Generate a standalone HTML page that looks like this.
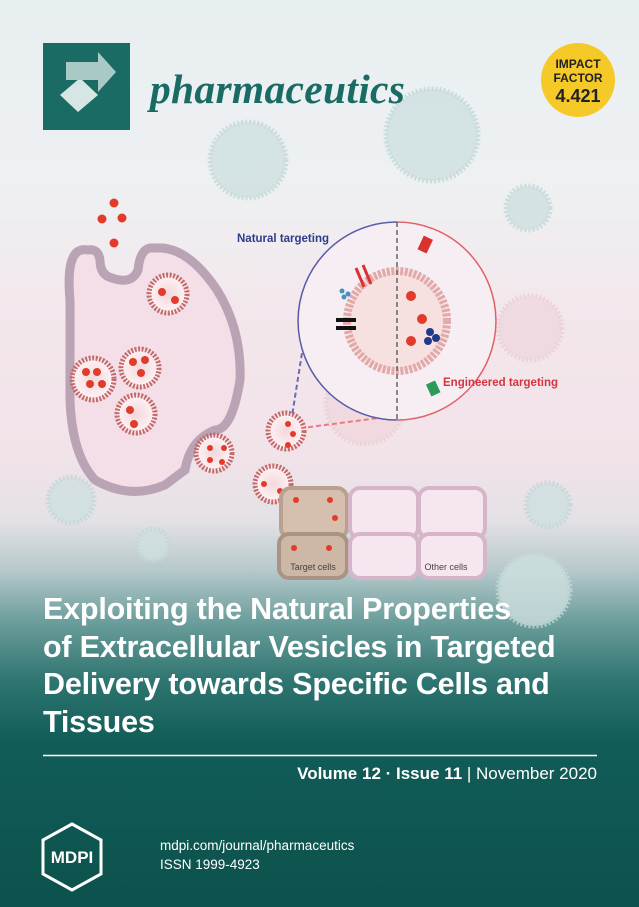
<!DOCTYPE html>
<html><head><meta charset="utf-8"><style>
*{margin:0;padding:0}
body{width:639px;height:907px;overflow:hidden;position:relative;font-family:"Liberation Sans",sans-serif;
background:linear-gradient(to bottom,#e8eff1 0px,#eef0f2 180px,#f3e6eb 330px,#f2e3e9 450px,#e4e1e6 520px,#b7c9cb 570px,#6d9f9d 620px,#2f7571 680px,#125d58 740px,#0c514c 907px);}
.t{position:absolute;color:#fff;font-weight:bold;font-size:30.5px;left:43px;line-height:37.5px;top:591px;letter-spacing:-0.2px}
</style></head><body>
<svg width="639" height="907" style="position:absolute;left:0;top:0">
<defs>
<radialGradient id="v" cx="50%" cy="50%" r="50%"><stop offset="0" stop-color="#f2d8dc"/><stop offset="1" stop-color="#fff3f5"/></radialGradient>
</defs>
<g fill="#cfe0e0" stroke="#c3d8d8" stroke-width="5" stroke-dasharray="2 2" opacity="0.8">
<circle cx="248" cy="160" r="38"/><circle cx="432" cy="135" r="46"/><circle cx="528" cy="208" r="22"/>
<circle cx="71" cy="500" r="23"/><circle cx="153" cy="545" r="16"/><circle cx="548" cy="505" r="22"/><circle cx="534" cy="590" r="36"/>
</g>
<g fill="#f0d8df" stroke="#ebcfd6" stroke-width="5" stroke-dasharray="2 2" opacity="0.8">
<circle cx="530" cy="328" r="32"/><circle cx="365" cy="405" r="39"/>
</g>
<rect x="43" y="43" width="87" height="87" fill="#1b6b65"/>
<path d="M60 95 L80 78 L98 95 L78 112Z" fill="#d6e6e4"/>
<path d="M66 62 L98 62 L98 52 L116 72 L98 92 L98 80 L66 80Z" fill="#a9c9c6"/>
<circle cx="578" cy="80" r="37" fill="#f4c928"/>
<text x="578" y="68" font-family="Liberation Sans" font-weight="bold" font-size="12" text-anchor="middle" fill="#222">IMPACT</text>
<text x="578" y="82" font-family="Liberation Sans" font-weight="bold" font-size="12" text-anchor="middle" fill="#222">FACTOR</text>
<text x="578" y="102" font-family="Liberation Sans" font-weight="bold" font-size="18" text-anchor="middle" fill="#222">4.421</text>
<path d="M88 250 Q65 245 70 300 L70 400 Q72 455 95 480 Q130 500 165 485 L185 470 Q190 440 215 430 Q232 430 240 380 Q242 330 217 290 Q190 250 162 248 L150 248 Q140 250 138 270 Q132 285 112 278 Q100 275 100 260 Q98 248 88 250Z" fill="#f4dfe8" stroke="#b9a3b5" stroke-width="9"/>
<g fill="#e23a2b"><circle cx="114" cy="203" r="4.5"/><circle cx="102" cy="219" r="4.5"/><circle cx="122" cy="218" r="4.5"/><circle cx="114" cy="243" r="4.5"/></g>
<g fill="url(#v)" stroke="#c46a6a" stroke-width="5" stroke-dasharray="2 1.5">
<circle cx="168" cy="294" r="19"/><circle cx="93" cy="379" r="21"/><circle cx="140" cy="368" r="19"/><circle cx="136" cy="414" r="19"/>
<circle cx="214" cy="453" r="18"/><circle cx="286" cy="431" r="18"/><circle cx="273" cy="484" r="18"/>
</g>
<g fill="#e23a2b">
<circle cx="162" cy="292" r="4"/><circle cx="175" cy="300" r="4"/>
<circle cx="86" cy="372" r="4"/><circle cx="97" cy="372" r="4"/><circle cx="90" cy="384" r="4"/><circle cx="102" cy="384" r="4"/>
<circle cx="133" cy="362" r="4"/><circle cx="145" cy="360" r="4"/><circle cx="141" cy="373" r="4"/>
<circle cx="130" cy="410" r="4"/><circle cx="134" cy="424" r="4"/>
<circle cx="210" cy="448" r="3"/><circle cx="224" cy="448" r="3"/><circle cx="210" cy="460" r="3"/><circle cx="222" cy="462" r="3"/>
<circle cx="288" cy="424" r="3"/><circle cx="293" cy="434" r="3"/><circle cx="288" cy="445" r="3"/>
<circle cx="264" cy="484" r="3"/><circle cx="280" cy="491" r="3"/>
</g>
<g stroke-width="4">
<rect x="281" y="488" width="66" height="50" rx="10" fill="#d6bfae" stroke="#b8a190"/>
<rect x="279" y="534" width="68" height="44" rx="10" fill="#cdb7a7" stroke="#a99484"/>
<rect x="350" y="488" width="68" height="50" rx="10" fill="#f6e6ef" stroke="#d7b5c9"/>
<rect x="419" y="488" width="66" height="50" rx="10" fill="#f6e6ef" stroke="#d7b5c9"/>
<rect x="350" y="534" width="68" height="44" rx="10" fill="#f6e6ef" stroke="#d7b5c9"/>
<rect x="419" y="534" width="66" height="44" rx="10" fill="#f6e6ef" stroke="#d7b5c9"/>
</g>
<g fill="#e23a2b"><circle cx="296" cy="500" r="3"/><circle cx="330" cy="500" r="3"/><circle cx="335" cy="518" r="3"/><circle cx="294" cy="548" r="3"/><circle cx="329" cy="548" r="3"/></g>
<text x="313" y="570" font-size="9" text-anchor="middle" fill="#444" font-family="Liberation Sans">Target cells</text>
<text x="446" y="570" font-size="9" text-anchor="middle" fill="#444" font-family="Liberation Sans">Other cells</text>
<line x1="312" y1="290" x2="292" y2="416" stroke="#6a6aba" stroke-width="2" stroke-dasharray="5 3"/>
<line x1="440" y1="410" x2="302" y2="428" stroke="#e87a80" stroke-width="2" stroke-dasharray="5 3"/>
<path d="M397 222 A85 85 0 0 0 397 420" fill="#f6eef3" stroke="#5a5aa8" stroke-width="1.5"/>
<path d="M397 222 A85 85 0 0 1 397 420" fill="#f6eef3" stroke="#e2606a" stroke-width="1.5"/>
<circle cx="397" cy="321" r="50" fill="#f6e0e0" stroke="#e3a8a8" stroke-width="8" stroke-dasharray="3 1.5"/>
<line x1="397" y1="222" x2="397" y2="420" stroke="#666" stroke-width="1.5" stroke-dasharray="5 3"/>
<g fill="#e23a2b"><circle cx="411" cy="296" r="5"/><circle cx="422" cy="319" r="5"/><circle cx="411" cy="341" r="5"/></g>
<rect x="420" y="237" width="10" height="15" fill="#d8332f" transform="rotate(25 425 245)"/>
<rect x="428" y="382" width="10" height="13" fill="#2e9a5a" transform="rotate(-25 433 388)"/>
<g fill="#223a8a"><circle cx="430" cy="332" r="4"/><circle cx="436" cy="338" r="4"/><circle cx="428" cy="341" r="4"/></g>
<rect x="336" y="318" width="20" height="4" fill="#111"/><rect x="336" y="326" width="20" height="4" fill="#111"/>
<g stroke="#d8332f" stroke-width="3"><line x1="356" y1="268" x2="364" y2="287"/><line x1="363" y1="265" x2="371" y2="284"/></g>
<g fill="#4a90c0"><circle cx="342" cy="291" r="2.5"/><circle cx="348" cy="294" r="2.5"/><circle cx="344" cy="297" r="2.5"/></g>
<text x="237" y="242" font-size="11.5" font-weight="bold" fill="#2f3c8a" font-family="Liberation Sans">Natural targeting</text>
<text x="443" y="386" font-size="11.5" font-weight="bold" fill="#d8333f" font-family="Liberation Sans">Engineered targeting</text>
<line x1="43" y1="755.5" x2="597" y2="755.5" stroke="#fff" stroke-width="1.5"/>
<path d="M72 824 L101 840 L101 874 L72 890 L43 874 L43 840Z" fill="none" stroke="#fff" stroke-width="3"/>
<text x="72" y="863" font-size="17" font-weight="bold" text-anchor="middle" fill="#fff" font-family="Liberation Sans">MDPI</text>
</svg>
<div style="position:absolute;left:150px;top:65px;font-family:'Liberation Serif',serif;font-style:italic;font-weight:bold;font-size:41.5px;color:#1b6b65;letter-spacing:0.3px">pharmaceutics</div>
<div class="t">Exploiting the Natural Properties<br>of Extracellular Vesicles in Targeted<br>Delivery towards Specific Cells and<br>Tissues</div>
<div style="position:absolute;right:42px;top:764px;color:#fff;font-size:17px"><b>Volume 12 · Issue 11</b> | November 2020</div>
<div style="position:absolute;left:160px;top:836px;color:#fff;font-size:13.5px;line-height:19px">mdpi.com/journal/pharmaceutics<br>ISSN 1999-4923</div>
</body></html>
